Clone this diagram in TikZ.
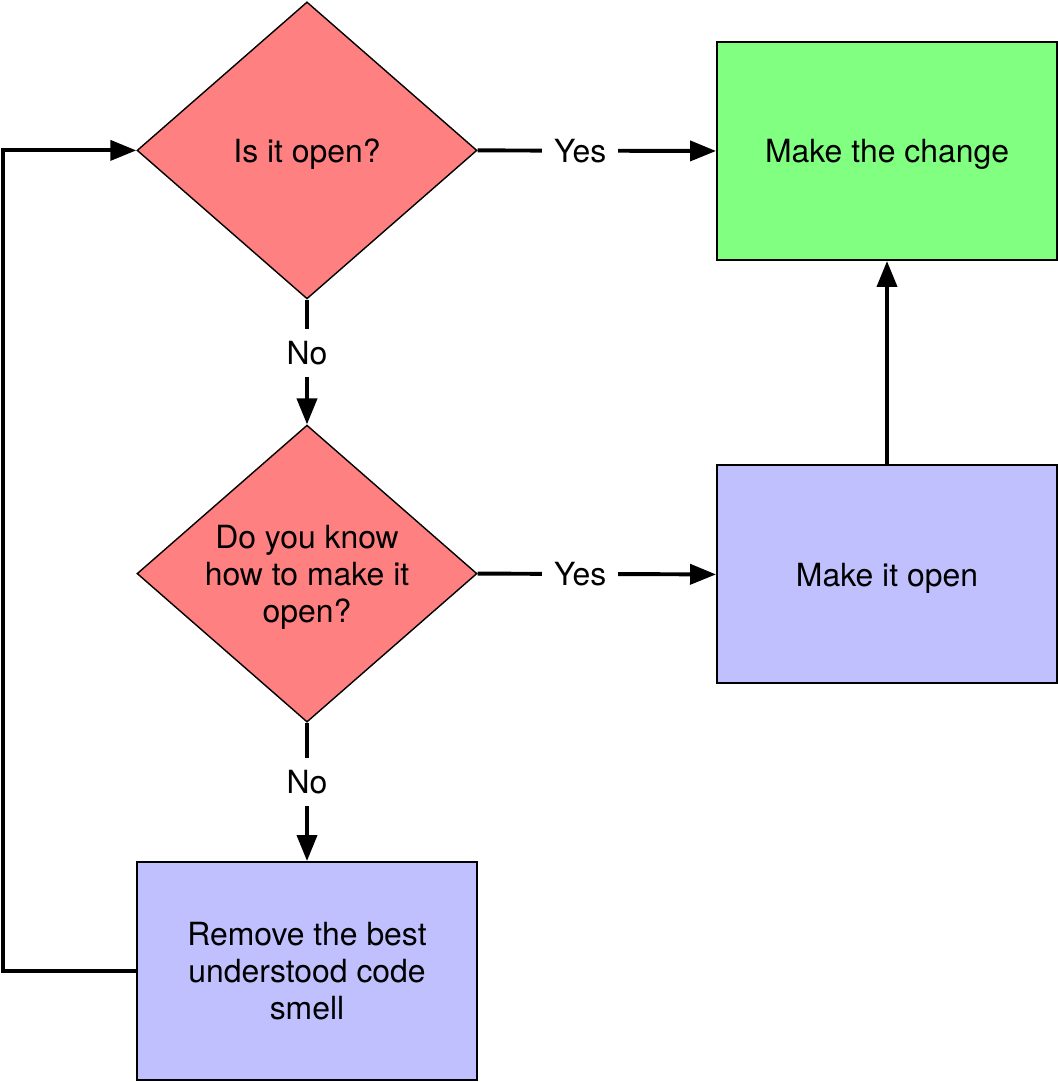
\documentclass[tikz,border=0pt]{standalone}
\usepackage{fontspec}
\setmainfont{TeX Gyre Heros}
\usetikzlibrary{shapes.geometric,arrows.meta}
\definecolor{askred}{HTML}{FF8080}
\definecolor{donegreen}{HTML}{80FF80}
\definecolor{stepblue}{HTML}{C0C0FF}
\begin{document}
\begin{tikzpicture}[
    every node/.style={font=\fontsize{22.7}{26.2}\selectfont, align=center},
    question/.style={diamond, draw=black, line width=1pt, fill=askred,
      shape aspect=1.145, inner sep=0pt, text depth=0pt,
      minimum width=8.5cm, minimum height=7.425cm},
    action/.style={rectangle, draw=black, line width=1.4pt, text depth=0pt,
      minimum width=8.5cm, minimum height=5.45cm},
    flow/.style={draw=black, line width=2.8pt,
      -{Triangle[length=0.65cm, width=0.5cm]}},
    answer/.style={fill=white, inner sep=0.3cm, pos=0.43}
  ]
    \useasboundingbox (0cm,0cm) rectangle (26.45cm,-27.05cm);
    \node[question] (isopen) at (7.675cm, -3.76cm) {Is it open?};
    \node[action, fill=donegreen] (change) at (22.175cm, -3.775cm) {Make the change};
    \node[question] (knowhow) at (7.675cm, -14.34cm)
      {Do you know\\how to make it\\open?};
    \node[action, fill=stepblue] (makeopen) at (22.175cm, -14.36cm) {Make it open};
    \node[action, fill=stepblue] (smell) at (7.675cm, -24.275cm)
      {Remove the best\\understood code\\smell};
    \coordinate (loop) at (0.075cm, 0cm);
    \draw[flow] (isopen.east) -- node[answer] {Yes} (change.west);
    \draw[flow] (isopen.south) -- node[answer] {No} (knowhow.north);
    \draw[flow] (knowhow.east) -- node[answer] {Yes} (makeopen.west);
    \draw[flow] (knowhow.south) -- node[answer] {No} (smell.north);
    \draw[flow] (makeopen.north) -- (change.south);
    \draw[flow] (smell.west) -- (smell.west -| loop) -- (isopen.west -| loop)
      -- (isopen.west);
  \end{tikzpicture}
\end{document}
